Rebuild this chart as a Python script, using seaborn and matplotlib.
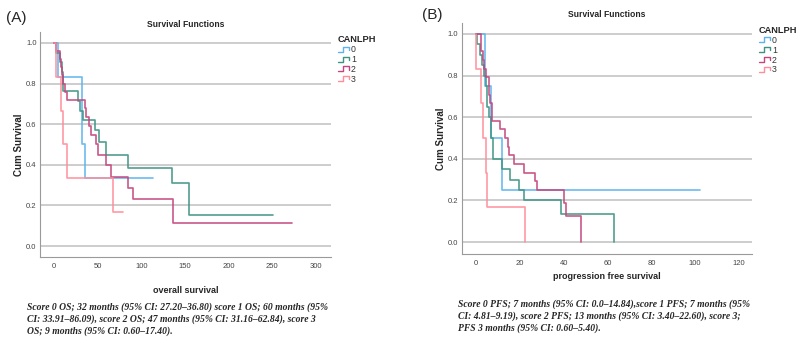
import numpy as np
import pandas as pd
import seaborn as sns
import matplotlib.pyplot as plt
from matplotlib.lines import Line2D
from matplotlib.legend_handler import HandlerBase

# groups of the CANLPH score
groups = ["0", "1", "2", "3"]
colors = ["#5DB3EE", "#3E9484", "#C4457F", "#FF8E9A"]

# overall survival (months) - step points
os_t0 = [0, 5, 32, 36, 113]
os_s0 = [1.0, 0.833, 0.5, 0.333, 0.333]
os_t1 = [0, 2, 7, 9, 10, 28, 30, 33, 47, 52, 60, 85, 135, 155, 251]
os_s1 = [1.0, 0.952, 0.905, 0.857, 0.762, 0.714, 0.667, 0.619, 0.571, 0.51, 0.449, 0.385, 0.308, 0.154, 0.154]
os_t2 = [0, 2, 7, 8, 9, 10, 13, 15, 36, 37, 40, 42, 48, 50, 60, 65, 85, 90, 136, 273]
os_s2 = [1.0, 0.96, 0.92, 0.88, 0.84, 0.80, 0.76, 0.72, 0.68, 0.636, 0.59, 0.545, 0.5, 0.45, 0.40, 0.34, 0.286, 0.229, 0.114, 0.114]
os_t3 = [0, 2, 8, 10, 14.5, 68, 79.5]
os_s3 = [1.0, 0.833, 0.667, 0.5, 0.333, 0.167, 0.167]

# progression free survival (months)
pfs_t0 = [0, 4, 7, 12, 102]
pfs_s0 = [1.0, 0.75, 0.5, 0.25, 0.25]
pfs_t1 = [0, 0.5, 2, 3, 3.5, 4.5, 5, 5.3, 6.2, 7, 8, 11.8, 15.6, 19.8, 22, 39, 63]
pfs_s1 = [1.0, 0.95, 0.90, 0.85, 0.80, 0.75, 0.70, 0.65, 0.60, 0.50, 0.40, 0.35, 0.30, 0.25, 0.20, 0.133, 0.0]
pfs_t2 = [0, 2.5, 3.2, 3.6, 4.7, 6.2, 6.5, 7.3, 11.1, 13.4, 14.5, 15.3, 17.2, 22, 27, 28.1, 40, 41, 48]
pfs_s2 = [1.0, 0.917, 0.875, 0.833, 0.792, 0.708, 0.667, 0.583, 0.542, 0.5, 0.458, 0.417, 0.375, 0.333, 0.292, 0.25, 0.188, 0.125, 0.0]
pfs_t3 = [0, 0.1, 2.2, 3.2, 4.5, 5.3, 22.2]
pfs_s3 = [1.0, 0.833, 0.667, 0.5, 0.333, 0.167, 0.0]

os_xticks = [0, 50, 100, 150, 200, 250, 300]
pfs_xticks = [0, 20, 40, 60, 80, 100, 120]
yticks = [0.0, 0.2, 0.4, 0.6, 0.8, 1.0]

os_note = ["Score 0 OS; 32 months (95% CI: 27.20\u201336.80) score 1 OS; 60 months (95%",
           "CI: 33.91\u201386.09), score 2 OS; 47 months (95% CI: 31.16\u201362.84), score 3",
           "OS; 9 months (95% CI: 0.60\u201317.40)."]
pfs_note = ["Score 0 PFS; 7 months (95% CI: 0.0\u201314.84),score 1 PFS; 7 months (95%",
            "CI: 4.81\u20139.19), score 2 PFS; 13 months (95% CI: 3.40\u201322.60), score 3;",
            "PFS 3 months (95% CI: 0.60\u20135.40)."]


def long_df(ts, ss):
    rows = []
    for g, t, s in zip(groups, ts, ss):
        rows.append(pd.DataFrame({"time": t, "surv": s, "group": g}))
    return pd.concat(rows, ignore_index=True)


os_df = long_df([os_t0, os_t1, os_t2, os_t3], [os_s0, os_s1, os_s2, os_s3])
pfs_df = long_df([pfs_t0, pfs_t1, pfs_t2, pfs_t3], [pfs_s0, pfs_s1, pfs_s2, pfs_s3])


class StepHandler(HandlerBase):
    # little step icon like the SPSS legend
    def create_artists(self, legend, orig, xd, yd, w, h, fontsize, trans):
        x = [xd, xd + 0.45 * w, xd + 0.45 * w, xd + w, xd + w]
        y = [yd + 0.1 * h, yd + 0.1 * h, yd + 0.9 * h, yd + 0.9 * h, yd + 0.4 * h]
        ln = Line2D(x, y, color=orig.get_color(), lw=1.0, transform=trans)
        return [ln]


sns.set_theme(style="white")
plt.rcParams["font.family"] = ["Liberation Sans", "DejaVu Sans"]

fig = plt.figure(figsize=(8, 3.53), dpi=100)
ax1 = fig.add_axes([0.05, 0.272, 0.364, 0.637])
ax2 = fig.add_axes([0.577, 0.2796, 0.363, 0.656])

panels = [
    (ax1, os_df, (-16, 317.5), (-0.054, 1.053), os_xticks, "overall survival", 12),
    (ax2, pfs_df, (-6.5, 125.9), (-0.059, 1.054), pfs_xticks, "progression free survival", 4),
]

for ax, df, xl, yl, xt, xlab, xpad in panels:
    ax.set_axisbelow(True)
    for y in yticks:
        ax.axhline(y, color="#c9c9c9", lw=1.3, zorder=0)
    sns.lineplot(data=df, x="time", y="surv", hue="group", palette=colors,
                 estimator=None, sort=False, drawstyle="steps-post",
                 lw=1.2, alpha=0.9, legend=False, ax=ax)
    ax.set_xlim(*xl)
    ax.set_ylim(*yl)
    ax.set_xticks(xt)
    ax.set_yticks(yticks)
    ax.set_yticklabels(["%.1f" % v for v in yticks])
    ax.tick_params(length=0, labelsize=5.5, colors="#444444", pad=4)
    ax.tick_params(axis="y", pad=2.5)
    for side in ["top", "right"]:
        ax.spines[side].set_visible(False)
    for side in ["left", "bottom"]:
        ax.spines[side].set_color("#9a9a9a")
        ax.spines[side].set_linewidth(0.8)
    ax.set_xlabel(xlab, fontsize=6.5, fontweight="bold", labelpad=xpad)
    ax.set_ylabel("Cum Survival", fontsize=7, fontweight="bold", labelpad=1.5)
    ax.set_title("Survival Functions", fontsize=6.2, fontweight="bold", pad=4)

    handles = [Line2D([0], [0], color=c) for c in colors]
    leg = ax.legend(handles, groups, title="CANLPH", loc="upper left",
                    bbox_to_anchor=(1.008, 1.005), frameon=False, fontsize=6.3,
                    handler_map={Line2D: StepHandler()}, handlelength=1.3,
                    handletextpad=0.2, labelspacing=0.1, borderpad=0,
                    alignment="left")
    leg.get_title().set_fontsize(6.7)
    leg.get_title().set_fontweight("bold")
    for txt in leg.get_texts():
        txt.set_color("#333333")

fig.text(0.008, 0.948, "(A)", fontsize=11, va="center", ha="left")
fig.text(0.528, 0.958, "(B)", fontsize=11, va="center", ha="left")

note_font = dict(family=["Liberation Serif", "DejaVu Serif"], style="italic",
                 fontweight="bold", fontsize=6.9, va="top", ha="left",
                 linespacing=1.32)
fig.text(27 / 800, 1 - 302 / 353, "\n".join(os_note), **note_font)
fig.text(458 / 800, 1 - 299 / 353, "\n".join(pfs_note), **note_font)

fig.savefig("out.png", dpi=100)
